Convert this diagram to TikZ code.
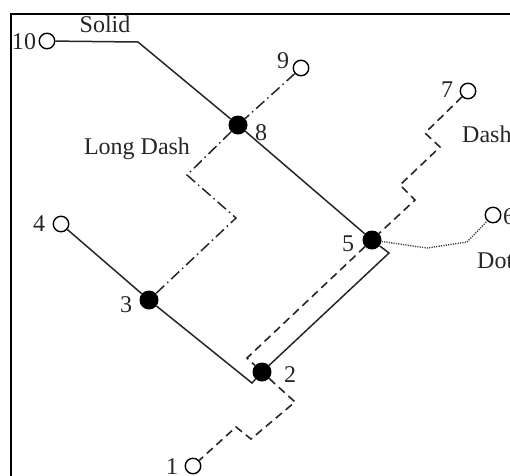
\documentclass[tikz,border=0pt]{standalone}
\usepackage{fontspec}
\setmainfont{Liberation Serif}
\begin{document}
\begin{tikzpicture}[x=1pt,y=-1pt,
  every node/.style={font=\fontsize{24}{28}\selectfont, inner sep=0pt},
  opencirc/.style={circle, draw, line width=1.4pt, fill=white, minimum size=15.5pt},
  dotnode/.style={circle, fill=black, minimum size=19pt},
  lbl/.style={text=black!85},
  solidline/.style={line width=1.5pt, black!85},
  longdash/.style={line width=1.5pt, black!85, dash pattern=on 11pt off 4pt on 1.5pt off 4pt},
  dashline/.style={line width=1.6pt, black!85, dash pattern=on 8pt off 5pt},
  dotline/.style={line width=1.4pt, black!75, dash pattern=on 1.2pt off 1.2pt},
  frame/.style={line width=1.8pt}]
\useasboundingbox (0,0) rectangle (510,475);
% frame
\draw[frame] (11,490) -- (11,14) -- (530,14);
% nodes
\node[opencirc] (n10) at (47,41) {};
\node[opencirc] (n9) at (301,68) {};
\node[opencirc] (n7) at (468,91) {};
\node[opencirc] (n6) at (493,215) {};
\node[opencirc] (n4) at (61,224) {};
\node[opencirc] (n1) at (193,466) {};
\node[dotnode] (n8) at (238,125) {};
\node[dotnode] (n5) at (372,240) {};
\node[dotnode] (n3) at (149,300) {};
\node[dotnode] (n2) at (262,372) {};
% bend coordinates
\coordinate (b10) at (138,42);
\coordinate (c5) at (389,253);
\coordinate (c2) at (252,383);
\coordinate (l1) at (187,175);
\coordinate (l2) at (236,218);
\coordinate (d1) at (425,133);
\coordinate (d2) at (440,147);
\coordinate (d3) at (400,185);
\coordinate (d4) at (415,200);
\coordinate (d5) at (247,358);
\coordinate (d6) at (295,402);
\coordinate (d7) at (251,439);
\coordinate (d8) at (236,427);
\coordinate (t1) at (427,248);
\coordinate (t2) at (467,242);
% connectors
\draw[solidline] (n10) -- (b10) -- (n8) -- (n5) -- (c5) -- (n2) -- (c2) -- (n3) -- (n4);
\draw[longdash] (n9) -- (n8) -- (l1) -- (l2) -- (n3);
\draw[dashline] (n7) -- (d1) -- (d2) -- (d3) -- (d4) -- (n5);
\draw[dashline] (n5) -- (d5) -- (n2);
\draw[dashline] (n2) -- (d6) -- (d7) -- (d8) -- (n1);
\draw[dotline] (n5) -- (t1) -- (t2) -- (n6);
% labels
\node[lbl] (t10) at (24,42) {10};
\node[lbl] (t9) at (283,61) {9};
\node[lbl] (t8) at (261,133) {8};
\node[lbl] (t7) at (447,90) {7};
\node[lbl, anchor=west] (t6) at (503,217) {6};
\node[lbl] (t5) at (348,244) {5};
\node[lbl] (t4) at (39,224) {4};
\node[lbl] (t3) at (126,305) {3};
\node[lbl] (t2l) at (290,375) {2};
\node[lbl] (t1l) at (172,467) {1};
\node[lbl] (solid) at (105,24) {Solid};
\node[lbl] (ldash) at (137,149) {Long Dash};
\node[lbl, anchor=west] (dash) at (462,134) {Dash};
\node[lbl, anchor=west] (dot) at (477,261) {Dot};
\end{tikzpicture}
\end{document}
